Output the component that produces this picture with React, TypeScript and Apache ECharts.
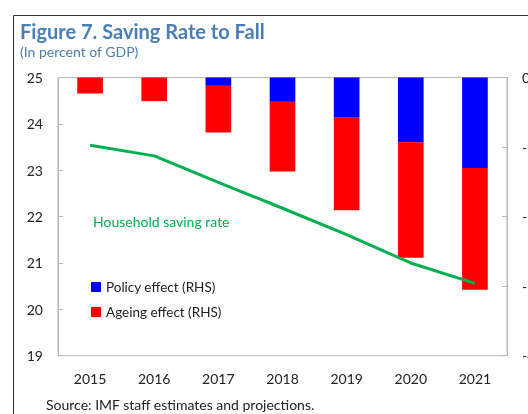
import React, { useEffect, useRef } from "react";
import * as echarts from "echarts";

const years = ["2015", "2016", "2017", "2018", "2019", "2020", "2021"];
const householdSavingRate = [23.54, 23.31, 22.74, 22.18, 21.61, 21.0, 20.56];
const policyEffect = [0, 0, -0.12, -0.35, -0.58, -0.93, -1.3];
const ageingEffect = [-0.23, -0.34, -0.67, -1.0, -1.33, -1.66, -1.75];

const FONT = "Lato, 'Open Sans', sans-serif";
const TXT = "#222";

export default function App() {
  const ref = useRef<HTMLDivElement>(null);
  useEffect(() => {
    const chart = echarts.init(ref.current!, null, { renderer: "svg" });
    chart.setOption({
      animation: false,
      textStyle: { fontFamily: FONT },
      grid: {
        left: 58,
        right: 21,
        top: 77.5,
        bottom: 58.3,
        show: true,
        borderColor: "#b8b8b8",
        borderWidth: 1,
        containLabel: false,
        outerBoundsMode: "none",
      },
      title: {
        text: "Figure 7. Saving Rate to Fall",
        subtext: "(In percent of GDP)",
        left: 15,
        top: 16,
        itemGap: 3,
        textStyle: { color: "#4a7eb4", fontSize: 20, fontWeight: "bold", fontFamily: FONT },
        subtextStyle: { color: "#4a7eb4", fontSize: 14, fontFamily: FONT },
      },
      legend: {
        data: ["Policy effect (RHS)", "Ageing effect (RHS)"],
        orient: "vertical",
        left: 86,
        top: 275,
        itemWidth: 10,
        itemHeight: 10,
        itemGap: 11,
        icon: "rect",
        textStyle: { color: TXT, fontSize: 13.5, fontFamily: FONT },
      },
      xAxis: {
        type: "category",
        data: years,
        axisLine: { lineStyle: { color: "#b8b8b8" } },
        axisTick: { inside: true, length: 5, lineStyle: { color: "#b8b8b8" } },
        axisLabel: { color: TXT, fontSize: 14, margin: 16 },
      },
      yAxis: [
        {
          type: "value",
          min: 19,
          max: 25,
          interval: 1,
          axisLine: { show: true, lineStyle: { color: "#b8b8b8" } },
          axisTick: { show: true, inside: true, length: 5, lineStyle: { color: "#b8b8b8" } },
          axisLabel: { color: TXT, fontSize: 14, margin: 15 },
          splitLine: { show: false },
        },
        {
          type: "value",
          min: -4,
          max: 0,
          interval: 1,
          position: "right",
          axisLine: { show: true, lineStyle: { color: "#b8b8b8" } },
          axisTick: { show: true, inside: true, length: 5, lineStyle: { color: "#b8b8b8" } },
          axisLabel: { color: TXT, fontSize: 14, margin: 15 },
          splitLine: { show: false },
        },
      ],
      series: [
        {
          name: "Policy effect (RHS)",
          type: "bar",
          yAxisIndex: 1,
          stack: "eff",
          data: policyEffect,
          barWidth: "40%",
          itemStyle: { color: "#0000ff" },
        },
        {
          name: "Ageing effect (RHS)",
          type: "bar",
          yAxisIndex: 1,
          stack: "eff",
          data: ageingEffect,
          barWidth: "40%",
          itemStyle: { color: "#ff0000" },
        },
        {
          name: "Household saving rate",
          type: "line",
          yAxisIndex: 0,
          data: householdSavingRate,
          symbol: "none",
          lineStyle: { color: "#00b050", width: 3 },
          z: 5,
        },
      ],
      graphic: [
        {
          type: "text",
          left: 93,
          top: 214,
          style: { text: "Household saving rate", fill: "#00b050", fontSize: 14, fontFamily: FONT },
        },
        {
          type: "text",
          left: 46,
          top: 397,
          style: { text: "Source: IMF staff estimates and projections.", fill: TXT, fontSize: 14, fontFamily: FONT },
        },
        {
          type: "polyline",
          shape: { points: [[13.5, 414], [13.5, 15.5], [528, 15.5]] },
          style: { stroke: "#333", lineWidth: 1, fill: "none" },
        },
      ],
    });
    return () => chart.dispose();
  }, []);
  return <div ref={ref} style={{ position: "fixed", left: 0, top: 0, width: 528, height: 414 }} />;
}
